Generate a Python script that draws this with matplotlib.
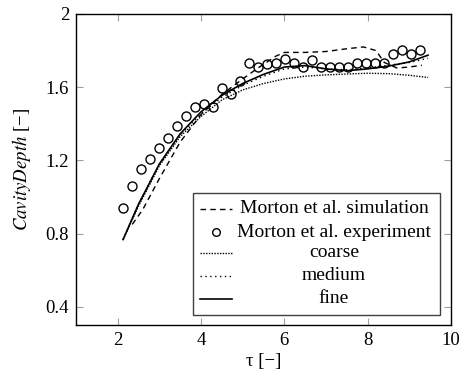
import matplotlib
matplotlib.use('Agg')
from matplotlib import pyplot as plt
from matplotlib.lines import Line2D
from matplotlib.patches import Rectangle

plt.rcParams['font.family'] = ['Liberation Serif', 'DejaVu Serif']
plt.rcParams['mathtext.fontset'] = 'stix'
plt.rcParams['font.size'] = 13

# Morton et al. experiment
exp_tau = [2.13, 2.35, 2.56, 2.78, 3.00, 3.21, 3.43, 3.65, 3.86, 4.08, 4.29, 4.51,
           4.73, 4.94, 5.16, 5.37, 5.59, 5.80, 6.02, 6.24, 6.45, 6.67, 6.89, 7.10,
           7.32, 7.53, 7.75, 7.97, 8.18, 8.40, 8.62, 8.83, 9.05, 9.26]
exp_depth = [0.94, 1.06, 1.155, 1.205, 1.27, 1.32, 1.39, 1.44, 1.49, 1.51, 1.49, 1.595,
             1.562, 1.634, 1.731, 1.713, 1.729, 1.731, 1.753, 1.731, 1.713, 1.751, 1.713, 1.713,
             1.713, 1.713, 1.733, 1.733, 1.733, 1.73, 1.78, 1.804, 1.78, 1.804]

# Morton et al. simulation
sim_tau = [2.35, 2.6, 3.0, 3.5, 4.0, 4.5, 5.0, 5.4, 5.8, 6.0, 6.5, 7.0, 7.5, 7.9,
           8.2, 8.4, 8.7, 9.0, 9.3]
sim_depth = [0.85, 0.93, 1.10, 1.30, 1.45, 1.56, 1.645, 1.71, 1.77, 1.79, 1.79, 1.795,
             1.81, 1.82, 1.80, 1.735, 1.705, 1.71, 1.72]

# mesh refinement study
tau = [2.13, 2.5, 3.0, 3.5, 4.0, 4.5, 5.0, 5.5, 6.0, 6.5, 7.0, 7.5, 8.0, 8.5, 9.0, 9.45]
coarse = [0.767, 0.95, 1.17, 1.33, 1.44, 1.53, 1.585, 1.62, 1.645, 1.66, 1.667, 1.672,
          1.676, 1.674, 1.665, 1.653]
medium = [0.767, 0.96, 1.18, 1.34, 1.455, 1.545, 1.61, 1.66, 1.70, 1.71, 1.70, 1.695,
          1.705, 1.72, 1.735, 1.758]
fine = [0.767, 0.96, 1.18, 1.345, 1.465, 1.555, 1.62, 1.67, 1.71, 1.718, 1.70, 1.69,
        1.70, 1.715, 1.738, 1.775]

labels = ['Morton et al. simulation', 'Morton et al. experiment', 'coarse', 'medium', 'fine']

fig = plt.figure(figsize=(4.67, 3.78), dpi=100)
ax = fig.add_axes([76 / 467, 53 / 378, 375 / 467, 311 / 378])

styles = {
    'sim': dict(color='k', lw=1.0, ls=(0, (4, 3))),
    'exp': dict(ls='none', marker='o', ms=6.5, mfc='none', mec='k', mew=1.0),
    'coarse': dict(color='k', lw=1.0, ls=(0, (1, 1))),
    'medium': dict(color='k', lw=1.0, ls=(0, (1, 2.5))),
    'fine': dict(color='k', lw=1.2, ls='-'),
}

ax.plot(sim_tau, sim_depth, **styles['sim'])
ax.plot(tau, coarse, **styles['coarse'])
ax.plot(tau, medium, **styles['medium'])
ax.plot(tau, fine, **styles['fine'])
ax.plot(exp_tau, exp_depth, **styles['exp'])

ax.set_xlim(1, 10)
ax.set_ylim(0.3, 2.0)
ax.set_xticks([2, 4, 6, 8, 10])
ax.set_yticks([0.4, 0.8, 1.2, 1.6, 2.0])
ax.set_yticklabels(['0.4', '0.8', '1.2', '1.6', '2'])
ax.tick_params(direction='in', top=True, right=True, length=5, width=0.8,
               color='#a0a0a0', labelsize=13.5, pad=5)
for s in ax.spines.values():
    s.set_linewidth(1.0)

ax.set_xlabel('τ [−]', fontsize=13.5, labelpad=3)
ax.set_ylabel('$CavityDepth$ [−]', fontsize=13.5, labelpad=9)

# legend with centred text column
x0, x1, y0, y1 = 0.312, 0.971, 0.032, 0.424
ax.add_patch(Rectangle((x0, y0), x1 - x0, y1 - y0, transform=ax.transAxes,
                       fill=False, ec='#404040', lw=1.0, zorder=5))
rows = [0.373, 0.298, 0.233, 0.158, 0.084]
keys = ['sim', 'exp', 'coarse', 'medium', 'fine']
for key, lab, yr in zip(keys, labels, rows):
    if key == 'exp':
        st = dict(styles[key], ms=5.5)
        ax.add_line(Line2D([0.373], [yr], transform=ax.transAxes, zorder=6, **st))
    else:
        ax.add_line(Line2D([0.331, 0.415], [yr, yr], transform=ax.transAxes, zorder=6,
                           **styles[key]))
    ax.text(0.688, yr, lab, transform=ax.transAxes, ha='center', va='center',
            fontsize=14, zorder=6)

fig.savefig('out.png', dpi=100)
